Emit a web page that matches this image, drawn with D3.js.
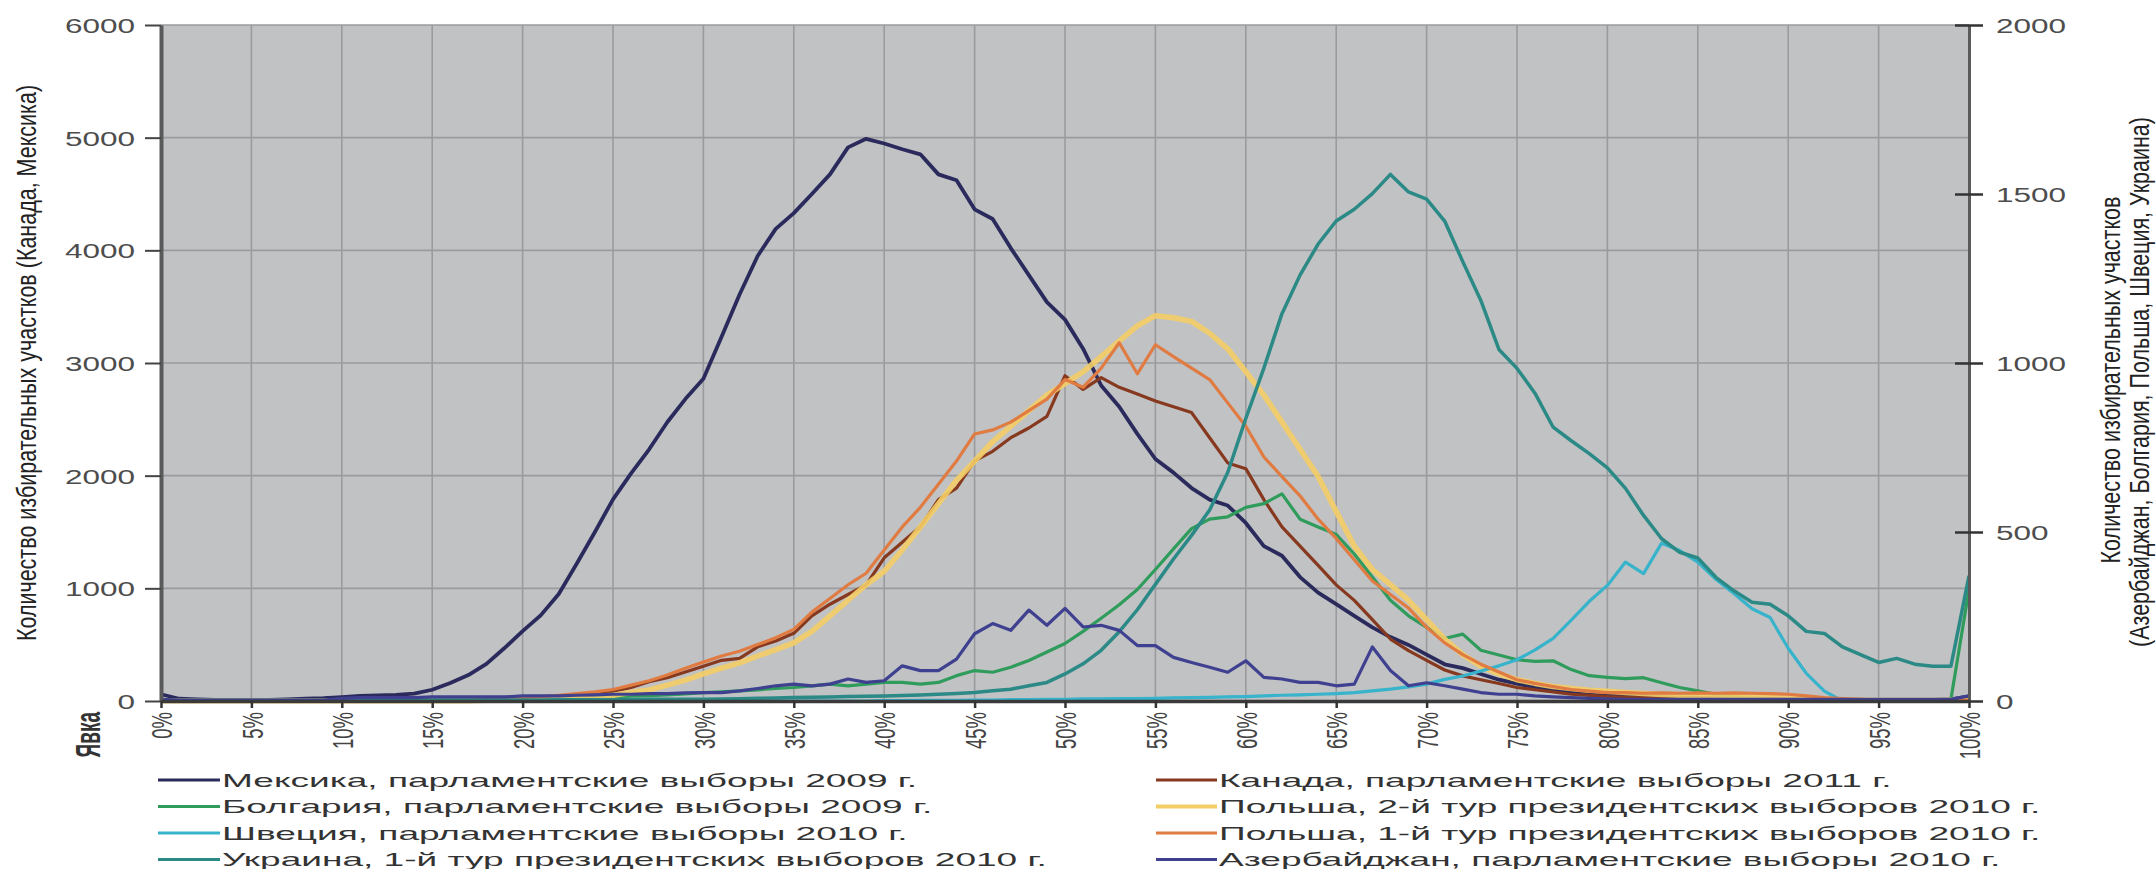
<!DOCTYPE html>
<html><head><meta charset="utf-8">
<script src="https://cdn.jsdelivr.net/npm/d3@7"></script>
<style>
body{margin:0;background:#fff;}
svg{display:block;font-family:"Liberation Sans",Arial,sans-serif;}
</style>
</head><body>
<script>
// ---------- DATA ----------
const turnout = [0,1,2,3,4,5,6,7,8,9,10,11,12,13,14,15,16,17,18,19,20,21,22,23,24,25,26,27,28,29,30,31,32,33,34,35,36,37,38,39,40,41,42,43,44,45,46,47,48,49,50,51,52,53,54,55,56,57,58,59,60,61,62,63,64,65,66,67,68,69,70,71,72,73,74,75,76,77,78,79,80,81,82,83,84,85,86,87,88,89,90,91,92,93,94,95,96,97,98,99,100];

const xTickValues = [0,5,10,15,20,25,30,35,40,45,50,55,60,65,70,75,80,85,90,95,100];
const xTickLabels = ["0%","5%","10%","15%","20%","25%","30%","35%","40%","45%","50%","55%","60%","65%","70%","75%","80%","85%","90%","95%","100%"];
const leftTicks = [0,1000,2000,3000,4000,5000,6000];
const rightTicks = [0,500,1000,1500,2000];

// left axis (Канада, Мексика)
const mexico = [60,20,15,10,10,10,10,15,20,25, 35,45,50,55,65,100,160,230,330,470, 620,760,950,1220,1500,1790,2020,2234,2474,2680, 2860,3230,3608,3950,4190,4330,4500,4674,4914,4990, 4948,4897,4852,4674,4622,4364,4278,4020,3780,3540, 3385,3127,2800,2612,2371,2148,2027,1890,1787,1735, 1580,1375,1289,1100,962,859,756,653,567,498, 412,326,292,240,189,155,120,103,76,60, 50,45,40,35,30,28,25,22,20,18, 15,14,12,10,10,8,8,8,10,15, 40];
const canada = [5,5,5,5,5,5,5,5,5,5, 10,10,10,10,10,15,15,20,20,25, 30,35,45,55,70,86,120,172,206,258, 309,361,378,481,533,601,756,859,945,1031, 1271,1409,1546,1787,1890,2131,2216,2337,2423,2526, 2887,2766,2870,2784,2725,2663,2612,2560,2337,2113, 2062,1787,1546,1375,1203,1031,893,722,550,447, 361,275,223,189,155,120,100,80,60,50, 40,35,30,28,25,22,20,18,16,15, 14,12,12,10,10,8,8,6,6,5, 5];
// right axis (Азербайджан, Болгария, Польша, Швеция, Украина)
const bulgaria = [3,3,3,3,3,3,3,3,3,3, 5,5,5,5,5,7,7,7,7,7, 8,9,10,11,12,12,14,16,18,21, 25,27,30,33,37,40,45,50,45,50, 55,55,50,55,75,90,85,100,120,145, 170,206,245,285,330,389,450,510,538,545, 573,584,613,538,515,493,435,367,298,252, 218,185,198,150,136,122,117,119,93,75, 70,66,69,54,40,30,20,12,8,5, 4,4,4,4,4,4,4,4,4,5, 330];
const poland2 = [1,1,1,1,1,1,1,1,1,1, 1,1,1,1,1,1,1,1,2,3, 4,5,7,9,13,17,25,33,47,62, 80,97,113,133,152,172,206,252,298,344, 384,447,515,584,653,710,767,813,859,905, 939,974,1019,1065,1110,1140,1134,1123,1088,1042, 974,905,825,745,664,561,458,389,344,298, 241,183,137,103,80,63,52,43,37,32, 29,25,22,19,17,16,15,13,12,10, 8,7,5,3,3,2,2,2,2,2, 2];
const sweden = [0,0,0,0,0,0,0,0,0,0, 0,0,0,0,0,0,0,0,0,0, 0,0,0,0,0,0,0,0,0,0, 0,0,0,0,0,0,0,0,0,0, 1,1,2,2,2,3,3,4,4,5, 5,6,6,7,7,8,9,10,11,12, 13,15,17,18,20,22,25,30,35,42, 50,64,74,89,104,122,151,185,239,295, 342,411,377,467,445,411,360,318,273,247, 156,82,29,0,0,0,0,0,0,0, 0];
const poland1 = [2,2,2,2,2,2,2,2,2,2, 2,2,2,2,2,2,3,3,5,7, 10,13,17,22,27,34,47,60,77,97, 115,133,147,167,187,212,263,303,344,378, 447,515,573,641,710,790,802,825,859,893, 951,928,985,1060,968,1054,1019,985,951,882, 813,722,664,607,538,481,418,355,315,275, 218,172,137,109,86,63,52,43,34,29, 25,25,23,24,23,24,23,24,23,22, 20,15,10,7,5,3,3,3,3,3, 3];
const ukraine = [2,2,2,2,2,2,2,2,2,2, 2,2,2,2,2,3,3,3,3,3, 3,3,4,4,4,4,4,5,5,5, 5,6,7,8,9,10,11,12,13,14, 15,16,18,20,22,25,30,35,45,55, 80,110,150,205,270,345,420,490,565,676, 836,985,1146,1260,1352,1420,1455,1501,1558,1506, 1485,1420,1300,1185,1040,984,910,810,770,732, 690,629,549,480,440,423,366,326,292,286, 252,206,200,160,137,114,126,109,103,103, 370];
const azerbaijan = [5,3,3,3,3,3,3,3,3,3, 8,10,10,10,10,12,12,12,12,12, 15,15,15,17,18,20,20,22,22,24, 25,25,30,37,45,50,45,50,65,55, 60,104,90,90,124,199,229,209,269,224, 274,219,224,209,164,164,129,114,100,85, 119,70,65,55,55,45,50,160,90,45, 54,45,35,25,20,20,15,12,10,8, 6,5,5,5,5,5,5,5,5,5, 5,5,5,5,5,5,5,5,5,5, 15];

const seriesNames = [
  "Мексика, парламентские выборы 2009 г.",
  "Канада, парламентские выборы 2011 г.",
  "Болгария, парламентские выборы 2009 г.",
  "Польша, 2-й тур президентских выборов 2010 г.",
  "Швеция, парламентские выборы 2010 г.",
  "Польша, 1-й тур президентских выборов 2010 г.",
  "Украина, 1-й тур президентских выборов 2010 г.",
  "Азербайджан, парламентские выборы 2010 г."
];
const seriesValues = [mexico, canada, bulgaria, poland2, sweden, poland1, ukraine, azerbaijan];
const seriesAxis = ["L","L","R","R","R","R","R","R"];

const leftTitle = "Количество избирательных участков (Канада, Мексика)";
const rightTitle1 = "Количество избирательных участков";
const rightTitle2 = "(Азербайджан, Болгария, Польша, Швеция, Украина)";
const xTitle = "Явка";

// ---------- STYLE ----------
const seriesColors = ["#2a2b5c","#86391f","#2f9c5c","#f3cd66","#37b3cb","#e07b42","#2b8986","#3f4190"];
const seriesWidths = [3.8,3.2,3.2,5.5,3.2,3.2,3.5,3.2];

const W = 2156, H = 869;
const M = {left:161, right:1969, top:25, bottom:701};

const svg = d3.select("body").append("svg").attr("width", W).attr("height", H);
svg.append("rect").attr("width", W).attr("height", H).attr("fill", "#fff");

const x = d3.scaleLinear().domain([0,100]).range([M.left, M.right]);
const yL = d3.scaleLinear().domain([0,6000]).range([M.bottom, M.top]);
const yR = d3.scaleLinear().domain([0,2000]).range([M.bottom, M.top]);

// plot background
svg.append("rect").attr("x", M.left).attr("y", M.top)
  .attr("width", M.right - M.left).attr("height", M.bottom - M.top)
  .attr("fill", "#c1c2c4");

// grid
const grid = svg.append("g");
grid.selectAll("line.v").data(xTickValues.filter(d => d > 0 && d < 100)).join("line")
  .attr("x1", d => x(d)).attr("x2", d => x(d)).attr("y1", M.top).attr("y2", M.bottom)
  .attr("stroke", "#9a9b9e").attr("stroke-width", 1.6);
grid.selectAll("line.h").data(leftTicks.filter(d => d > 0)).join("line")
  .attr("x1", M.left).attr("x2", M.right).attr("y1", d => yL(d)).attr("y2", d => yL(d))
  .attr("stroke", "#9a9b9e").attr("stroke-width", 1.6);

// series
const lines = svg.append("g");
seriesValues.forEach((vals, k) => {
  const ys = seriesAxis[k] === "L" ? yL : yR;
  const gen = d3.line().x((d, i) => x(turnout[i])).y(d => ys(d));
  lines.append("path").datum(vals)
    .attr("d", gen)
    .attr("fill", "none")
    .attr("stroke", seriesColors[k])
    .attr("stroke-width", seriesWidths[k])
    .attr("stroke-linejoin", "round")
    .attr("stroke-opacity", k === 3 ? 0.9 : 1);
});

// left axis
const gL = svg.append("g").attr("transform", `translate(${M.left},0)`)
  .call(d3.axisLeft(yL).tickValues(leftTicks).tickSizeInner(16).tickSizeOuter(0).tickFormat(d3.format("d")));
gL.select(".domain").attr("stroke", "#5a5a5a").attr("stroke-width", 4);
gL.selectAll(".tick line").attr("stroke", "#444").attr("stroke-width", 2);
gL.selectAll(".tick text")
  .attr("x", 0).attr("dy", "0.36em").attr("text-anchor", "end")
  .attr("transform", "translate(-26,0) scale(1.5,1)")
  .attr("font-size", 21).attr("fill", "#4d4d4d");

// right axis
const gR = svg.append("g").attr("transform", `translate(${M.right},0)`)
  .call(d3.axisRight(yR).tickValues(rightTicks).tickSizeInner(14).tickSizeOuter(0).tickFormat(d3.format("d")));
gR.select(".domain").attr("stroke", "#5a5a5a").attr("stroke-width", 3);
gR.selectAll(".tick line").attr("x1", -14).attr("stroke", "#333").attr("stroke-width", 2.5);
gR.selectAll(".tick text")
  .attr("x", 0).attr("dy", "0.36em").attr("text-anchor", "start")
  .attr("transform", "translate(27,0) scale(1.5,1)")
  .attr("font-size", 21).attr("fill", "#4d4d4d");

// bottom axis
const gB = svg.append("g").attr("transform", `translate(0,${M.bottom})`)
  .call(d3.axisBottom(x).tickValues(xTickValues).tickSizeInner(7).tickSizeOuter(0)
    .tickFormat((d, i) => xTickLabels[i]));
gB.select(".domain").attr("stroke", "#3a3a3a").attr("stroke-width", 3.5);
gB.selectAll(".tick line").attr("stroke", "#333").attr("stroke-width", 2.5);
gB.selectAll(".tick text")
  .attr("x", 0).attr("y", 0).attr("dy", "0.36em").attr("text-anchor", "end")
  .attr("transform", "translate(0,11) scale(1.6,1) rotate(-90)")
  .attr("font-size", 18.5).attr("fill", "#444");

// axis titles
svg.append("g").attr("transform", `translate(26,${(M.top + M.bottom) / 2}) scale(1.3,1) rotate(-90)`)
  .append("text").attr("text-anchor", "middle").attr("dy", "0.36em")
  .attr("font-size", 21.5).attr("fill", "#222").text(leftTitle);
svg.append("g").attr("transform", `translate(2110,380) scale(1.3,1) rotate(-90)`)
  .append("text").attr("text-anchor", "middle").attr("dy", "0.36em")
  .attr("font-size", 21.5).attr("fill", "#222").text(rightTitle1);
svg.append("g").attr("transform", `translate(2139,382) scale(1.3,1) rotate(-90)`)
  .append("text").attr("text-anchor", "middle").attr("dy", "0.36em")
  .attr("font-size", 21.5).attr("fill", "#222").text(rightTitle2);
svg.append("g").attr("transform", `translate(88,712) scale(1.8,1) rotate(-90)`)
  .append("text").attr("text-anchor", "end").attr("dy", "0.36em")
  .attr("font-size", 19).attr("font-weight", "bold").attr("fill", "#333").text(xTitle);

// legend
const legend = svg.append("g");
const legRowY = [780, 806.5, 833, 859.5];
const legCol = [{sx:158, tx:222}, {sx:1156, tx:1219}];
seriesNames.forEach((name, k) => {
  const col = legCol[k % 2];
  const ry = legRowY[Math.floor(k / 2)];
  legend.append("line")
    .attr("x1", col.sx).attr("x2", col.tx - 2).attr("y1", ry).attr("y2", ry)
    .attr("stroke", seriesColors[k]).attr("stroke-width", k === 3 ? 4 : 3);
  legend.append("g").attr("transform", `translate(${col.tx},${ry}) scale(1.95,1)`)
    .append("text").attr("dy", "0.36em").attr("font-size", 19).attr("fill", "#333").text(name);
});
</script>
</body></html>
